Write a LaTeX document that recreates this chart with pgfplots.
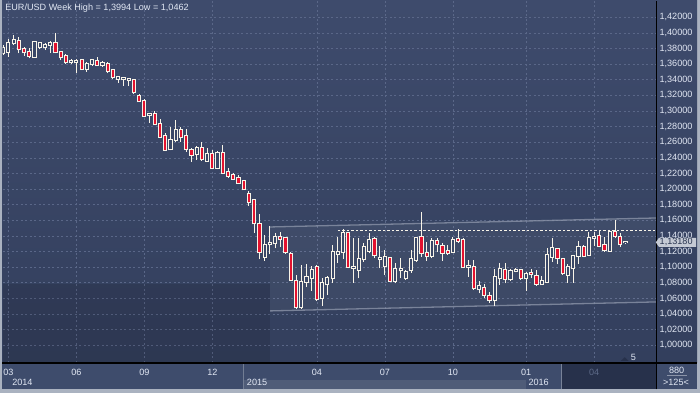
\documentclass[border=0pt]{standalone}
\usepackage{fontspec}
\setmainfont{Liberation Sans}
\usepackage{pgfplots}
\usepackage{pgfplotstable}
\pgfplotsset{compat=1.18}
\definecolor{framec}{HTML}{AAB2C0}
\definecolor{bgtop}{HTML}{3E4B6C}
\definecolor{bgbot}{HTML}{333F5D}
\definecolor{band}{HTML}{3E4C6C}
\definecolor{bandfif}{HTML}{4F5C78}
\definecolor{banddark}{HTML}{27314B}
\definecolor{gridc}{HTML}{5A6788}
\definecolor{lbl}{HTML}{E2E8F4}
\definecolor{cred}{HTML}{E3122F}
\definecolor{cwhite}{HTML}{F8F4E8}
\definecolor{hollow}{HTML}{3A4767}
\definecolor{chan}{HTML}{8A93A8}
\definecolor{pbox}{HTML}{C5CAD4}
\definecolor{ptext}{HTML}{26324E}
\definecolor{grayfour}{HTML}{5D6A88}
\newcommand{\lf}{\fontsize{9.1}{11}\selectfont}

\pgfplotstableread{
i o h l c
-1 1.3747 1.3845 1.3717 1.3803
0 1.3760 1.3918 1.3696 1.3867
1 1.3867 1.3973 1.3845 1.3909
5 1.3696 1.3901 1.3687 1.3879
6 1.3815 1.3875 1.3790 1.3867
7 1.3824 1.3867 1.3781 1.3841
8 1.3845 1.3901 1.3747 1.3875
12 1.3628 1.3662 1.3598 1.3645
13 1.3623 1.3662 1.3491 1.3636
15 1.3534 1.3632 1.3504 1.3602
16 1.3598 1.3662 1.3576 1.3653
18 1.3585 1.3645 1.3568 1.3611
21 1.3414 1.3448 1.3363 1.3431
22 1.3406 1.3431 1.3320 1.3418
23 1.3393 1.3410 1.3320 1.3406
27 1.2945 1.2979 1.2851 1.2962
31 1.2509 1.2791 1.2497 1.2629
32 1.2629 1.2885 1.2608 1.2757
36 1.2454 1.2552 1.2373 1.2531
38 1.2364 1.2522 1.2352 1.2450
40 1.2275 1.2488 1.2253 1.2463
49 1.1135 1.1413 1.1084 1.1285
50 1.1293 1.1528 1.1169 1.1306
51 1.1306 1.1434 1.1242 1.1387
56 1.0486 1.1028 1.0465 1.0806
57 1.0815 1.1037 1.0751 1.0875
58 1.0858 1.1016 1.0700 1.0964
60 1.0602 1.0858 1.0508 1.0794
61 1.0781 1.0888 1.0644 1.0858
62 1.0858 1.1285 1.0802 1.1191
63 1.1174 1.1391 1.1058 1.1191
64 1.1191 1.1489 1.1105 1.1442
66 1.0990 1.1370 1.0802 1.1003
67 1.0964 1.1370 1.0858 1.1101
68 1.1101 1.1306 1.1071 1.1255
69 1.1212 1.1434 1.1178 1.1349
71 1.1105 1.1272 1.0986 1.1118
72 1.1011 1.1221 1.0900 1.1135
74 1.0828 1.1050 1.0794 1.0973
75 1.0960 1.1114 1.0858 1.0973
76 1.0858 1.0964 1.0836 1.0943
77 1.0964 1.1221 1.0930 1.1101
78 1.1092 1.1391 1.1071 1.1370
81 1.1144 1.1370 1.1114 1.1336
85 1.1199 1.1383 1.1186 1.1344
88 1.0999 1.1092 1.0879 1.1016
90 1.0717 1.0824 1.0666 1.0760
93 1.0580 1.0977 1.0503 1.0870
94 1.0858 1.1050 1.0772 1.0977
96 1.0845 1.0977 1.0824 1.0952
97 1.0952 1.0986 1.0935 1.0969
99 1.0858 1.0943 1.0700 1.0913
102 1.0781 1.0888 1.0772 1.0819
103 1.0815 1.1242 1.0802 1.1152
104 1.1135 1.1370 1.1071 1.1242
107 1.0900 1.1037 1.0802 1.0999
108 1.0986 1.1157 1.0802 1.1144
109 1.1148 1.1336 1.1041 1.1255
111 1.1157 1.1455 1.1144 1.1378
112 1.1378 1.1455 1.1272 1.1391
115 1.1212 1.1464 1.1199 1.1451
118 1.1318 1.1336 1.1293 1.1320
}\upc

\pgfplotstableread{
i o h l c
2 1.3901 1.3952 1.3739 1.3790
3 1.3790 1.3824 1.3704 1.3751
4 1.3751 1.3811 1.3675 1.3704
9 1.3867 1.3994 1.3739 1.3751
10 1.3751 1.3769 1.3653 1.3687
11 1.3704 1.3726 1.3602 1.3623
14 1.3653 1.3662 1.3525 1.3538
17 1.3640 1.3696 1.3581 1.3589
19 1.3598 1.3632 1.3483 1.3517
20 1.3521 1.3534 1.3414 1.3431
24 1.3393 1.3401 1.3214 1.3239
25 1.3192 1.3214 1.3115 1.3124
26 1.3128 1.3150 1.2919 1.2940
28 1.2958 1.2996 1.2821 1.2830
29 1.2830 1.2894 1.2663 1.2672
30 1.2676 1.2714 1.2492 1.2505
33 1.2753 1.2791 1.2608 1.2663
34 1.2676 1.2766 1.2480 1.2518
35 1.2501 1.2522 1.2352 1.2437
37 1.2522 1.2603 1.2364 1.2381
39 1.2445 1.2501 1.2253 1.2275
41 1.2458 1.2561 1.2202 1.2211
42 1.2219 1.2266 1.2142 1.2168
43 1.2181 1.2211 1.2117 1.2134
44 1.2142 1.2181 1.2066 1.2083
45 1.2100 1.2108 1.1989 1.1997
46 1.1933 1.1976 1.1788 1.1831
47 1.1861 1.1874 1.1442 1.1562
48 1.1549 1.1681 1.1101 1.1191
52 1.1387 1.1447 1.1263 1.1366
53 1.1370 1.1391 1.1169 1.1191
54 1.1165 1.1199 1.0828 1.0836
55 1.0828 1.0900 1.0462 1.0486
59 1.0999 1.1028 1.0572 1.0589
65 1.1434 1.1455 1.0986 1.1007
70 1.1357 1.1391 1.1114 1.1152
73 1.1114 1.1135 1.0806 1.0824
79 1.1383 1.1711 1.1135 1.1178
80 1.1186 1.1327 1.1084 1.1144
82 1.1332 1.1370 1.1199 1.1293
83 1.1276 1.1314 1.1084 1.1186
84 1.1208 1.1285 1.1157 1.1178
86 1.1361 1.1485 1.1314 1.1336
87 1.1349 1.1370 1.0986 1.0999
89 1.1007 1.1092 1.0708 1.0730
91 1.0730 1.0785 1.0602 1.0644
92 1.0632 1.0687 1.0546 1.0580
95 1.0964 1.1050 1.0794 1.0854
98 1.0964 1.0977 1.0836 1.0858
100 1.0930 1.0977 1.0858 1.0909
101 1.0892 1.0964 1.0764 1.0785
105 1.1229 1.1242 1.1037 1.1114
106 1.1101 1.1114 1.0900 1.0922
110 1.1263 1.1285 1.1127 1.1144
113 1.1400 1.1464 1.1255 1.1272
114 1.1285 1.1391 1.1199 1.1221
116 1.1451 1.1605 1.1378 1.1400
117 1.1383 1.1434 1.1263 1.1293
}\downc

\pgfplotsset{candle/.style={draw=none, mark=none, forget plot,
  error bars/.cd, y dir=plus, y explicit, error mark=none}}

\begin{document}
\begin{tikzpicture}[x=1pt,y=1pt]
\fill[framec] (0,0) rectangle (700,393);
\shade[top color=bgtop, bottom color=bgbot] (2,30) rectangle (697,392);
\fill[band] (2,3.5) rectangle (697,30);
\fill[bandfif] (243.3,3.5) rectangle (525.7,13);
\draw[color=bandfif!80!white, line width=0.7pt] (243.3,3.5) -- (243.3,30);
\fill[banddark] (561.7,3.5) rectangle (656,30);
\draw[color=band!70!white, line width=0.7pt] (561.7,3.5) -- (561.7,30);
\begin{axis}[
  at={(2.5pt,30pt)}, anchor=south west, scale only axis,
  width=653.5pt, height=362pt,
  xmin=-1.109, xmax=123.84, ymin=0.97736, ymax=1.44087,
  axis line style={draw=none},
  major tick length=0pt,
  xticklabel pos=lower, yticklabel pos=right,
  xtick={0,13,26,39,59,72,85,99,112},
  xticklabels={03,06,09,12,04,07,10,01,\textcolor{grayfour}{04}},
  ytick={1.00,1.02,1.04,1.06,1.08,1.10,1.12,1.14,1.16,1.18,1.20,1.22,1.24,1.26,1.28,1.30,1.32,1.34,1.36,1.38,1.40,1.42},
  grid=major,
  grid style={gridc, dash pattern=on 2pt off 2.5pt, line width=0.7pt},
  xticklabel style={anchor=base, yshift=-12.7pt, font=\lf, text=lbl},
  yticklabel style={anchor=west, font=\lf, text=lbl,
    /pgf/number format/.cd, fixed, fixed zerofill, precision=5, use comma, assume math mode=true},
]
% shaded zones
\addplot[fill=black, fill opacity=0.11, draw=none, forget plot]
  coordinates {(-1.109,0.97736) (50.04,0.97736) (50.04,1.0785) (-1.109,1.0785)} -- cycle;
\addplot[fill=white, fill opacity=0.045, draw=none, forget plot]
  coordinates {(50.04,1.1515) (123.84,1.163) (123.84,1.0555) (50.04,1.044)} -- cycle;
% channel lines
\addplot[chan, line width=1.3pt, opacity=0.8, forget plot] coordinates {(50.04,1.1515) (123.84,1.163)};
\addplot[chan, line width=1.3pt, opacity=0.8, forget plot] coordinates {(50.04,1.044) (123.84,1.0555)};
% dashed level
\addplot[cwhite, line width=0.8pt, dash pattern=on 2.5pt off 2pt, forget plot] coordinates {(63,1.1477) (123.84,1.1477)};
% wicks
\addplot[candle, error bar style={draw=cwhite, line width=1pt}]
  table[x=i, y=l, y error expr=\thisrow{h}-\thisrow{l}] {\upc};
\addplot[candle, error bar style={draw=cwhite, line width=1pt}]
  table[x=i, y=l, y error expr=\thisrow{h}-\thisrow{l}] {\downc};
% up bodies
\addplot[candle, error bar style={draw=cwhite, line width=4.2pt}]
  table[x=i, y expr=\thisrow{o}-0.0013, y error expr=\thisrow{c}-\thisrow{o}+0.0026] {\upc};
\addplot[candle, error bar style={draw=hollow, line width=2.2pt}]
  table[x=i, y=o, y error expr=\thisrow{c}-\thisrow{o}] {\upc};
% down bodies
\addplot[candle, error bar style={draw=cwhite, line width=4.2pt}]
  table[x=i, y expr=\thisrow{c}-0.0013, y error expr=\thisrow{o}-\thisrow{c}+0.0026] {\downc};
\addplot[candle, error bar style={draw=cred, line width=2.2pt}]
  table[x=i, y=c, y error expr=\thisrow{o}-\thisrow{c}] {\downc};
\end{axis}
% frame lines
\draw[black, line width=1.2pt] (2,30) -- (697,30);
\draw[black, line width=1.2pt] (656.5,3.5) -- (656.5,392);
% title
\node[anchor=base west, inner sep=0, text=lbl, font=\lf] at (5,382) {EUR/USD Week High = 1,3994 Low = 1,0462};
% years
\node[anchor=base west, inner sep=0, text=lbl, font=\lf] at (12,7.3) {2014};
\node[anchor=base west, inner sep=0, text=lbl, font=\lf] at (246.7,7.3) {2015};
\node[anchor=base west, inner sep=0, text=lbl, font=\lf] at (528.3,7.3) {2016};
% current price box
\fill[pbox] (655.8,150.6) -- (659,155.2) -- (696,155.2) -- (696,146) -- (659,146) -- cycle;
\node[anchor=west, inner sep=0, text=ptext, font=\lf] at (659.5,150.6) {1,13180};
% bottom right box
\node[anchor=base, inner sep=0, text=lbl, font=\lf] at (676.7,19.7) {880};
\draw[chan, line width=0.6pt] (667,17.6) -- (687,17.6);
\node[anchor=base, inner sep=0, text=lbl, font=\lf] at (676,7) {>125<};
% marker 5
\fill[banddark] (620.7,32) -- (628.7,32) -- (624.7,35.7) -- cycle;
\node[anchor=base, inner sep=0, text=lbl, font=\lf] at (633.5,32) {5};
\end{tikzpicture}
\end{document}
